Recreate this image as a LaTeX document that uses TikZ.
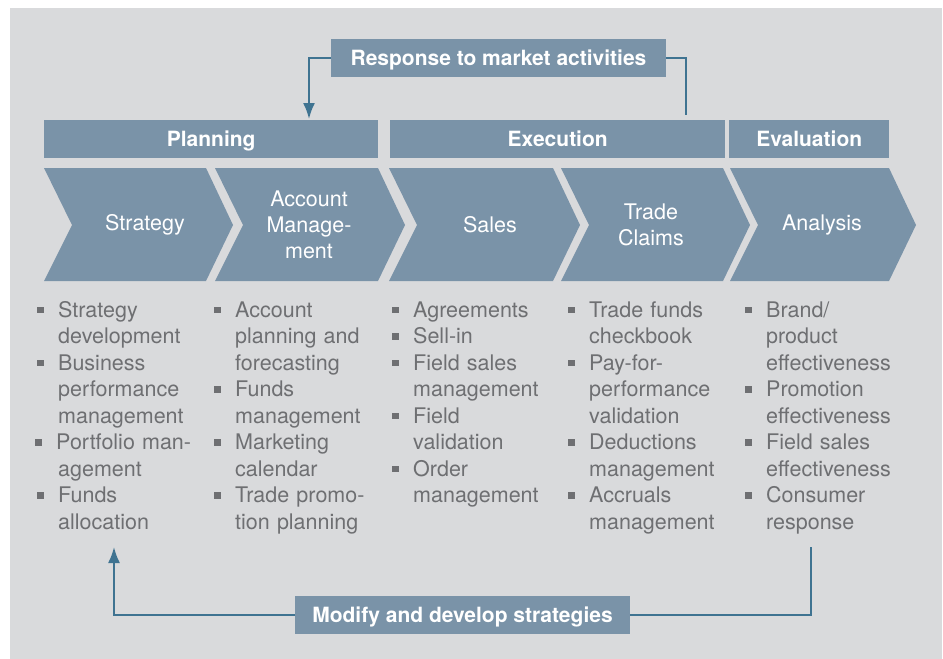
\documentclass[tikz,border=0pt]{standalone}
\usepackage{fontspec}
\setmainfont{TeX Gyre Heros}
\usetikzlibrary{arrows.meta}

\definecolor{panel}{HTML}{D9DADC}
\definecolor{stepblue}{HTML}{7A93A8}
\definecolor{linkblue}{HTML}{3F7391}
\definecolor{listgray}{HTML}{6E6F72}

% square bullet hung in the left margin of a list line
\newcommand{\bul}{\leavevmode\llap{\rule[4pt]{6.5pt}{6.5pt}\hspace{14.5pt}}}

\tikzset{
    phase/.style={fill=stepblue, text=white, font=\fontsize{21}{24}\selectfont\bfseries,
        minimum height=38pt, inner sep=0pt, text height=15pt, text depth=0pt, anchor=north west},
    chevtext/.style={text=white, align=center, font=\fontsize{21.5}{26}\selectfont},
    listbox/.style={anchor=north west, inner sep=0pt, text width=170pt, align=left,
        text=listgray, font=\fontsize{21.5}{26.5}\selectfont},
    link/.style={draw=linkblue, line width=2pt},
    tip/.style={-{Latex[length=16pt,width=12pt]}},
}

\begin{document}
\begin{tikzpicture}[x=1pt, y=-1pt]
    \useasboundingbox (0,0) rectangle (943,659);
    \fill[white] (0,0) rectangle (943,659);
    \fill[panel] (10,8) rectangle (942,659);

    % phase headers
    \node[phase, minimum width=334pt] (plan) at (44,120) {Planning};
    \node[phase, minimum width=335pt] (exec) at (390,120) {Execution};
    \node[phase, minimum width=160pt] (eval) at (729,120) {Evaluation};

    % process steps
    \foreach \l/\r/\cx/\nm/\txt in {44/206/145/strat/Strategy,
        215/378/309/acct/{Account\\Manage-\\ment},
        389/553/490/sales/Sales,
        561/723/651/claims/{Trade\\Claims},
        730/889/822/anal/Analysis} {
        \fill[stepblue] (\l,168) -- (\r,168) -- (\r+27,225) -- (\r,281)
            -- (\l,281) -- (\l+28,225) -- cycle;
        \node[chevtext] (\nm) at (\cx,225) {\txt};
    }

    % activities under each step
    \node[listbox] (strat-list) at (58,298.5) {\strut\bul Strategy\\ development\\
        \bul Business\\ performance\\ management\\
        \hspace{-2pt}\bul Portfolio man-\\ agement\\
        \bul Funds\\ allocation};
    \node[listbox] (acct-list) at (235,298.5) {\strut\bul Account\\ planning and\\ forecasting\\
        \bul Funds\\ management\\
        \bul Marketing\\ calendar\\
        \bul Trade promo-\\ tion planning};
    \node[listbox] (sales-list) at (413,298.5) {\strut\bul Agreements\\
        \bul Sell-in\\
        \bul Field sales\\ management\\
        \bul Field\\ validation\\
        \bul Order\\ management};
    \node[listbox] (claims-list) at (589,298.5) {\strut\bul Trade funds\\ checkbook\\
        \bul Pay-for-\\ performance\\ validation\\
        \bul Deductions\\ management\\
        \bul Accruals\\ management};
    \node[listbox] (anal-list) at (766,298.5) {\strut\bul Brand/\\ product\\ effectiveness\\
        \bul Promotion\\ effectiveness\\
        \bul Field sales\\ effectiveness\\
        \bul Consumer\\ response};

    % feedback loops
    \node[phase, anchor=center, minimum width=335pt] (resp) at (498.5,58) {Response to market activities};
    \node[phase, anchor=center, minimum width=335pt] (mod) at (462.5,615) {Modify and develop strategies};

    \coordinate (resp-in) at (309,119);
    \coordinate (resp-out) at (686,115);
    \coordinate (mod-in) at (114,547);
    \coordinate (mod-out) at (811,547);

    \draw[link, tip] (resp.west) -| (resp-in);
    \draw[link] (resp.east) -| (resp-out);
    \draw[link, tip] (mod.west) -| (mod-in);
    \draw[link] (mod.east) -| (mod-out);
\end{tikzpicture}
\end{document}
